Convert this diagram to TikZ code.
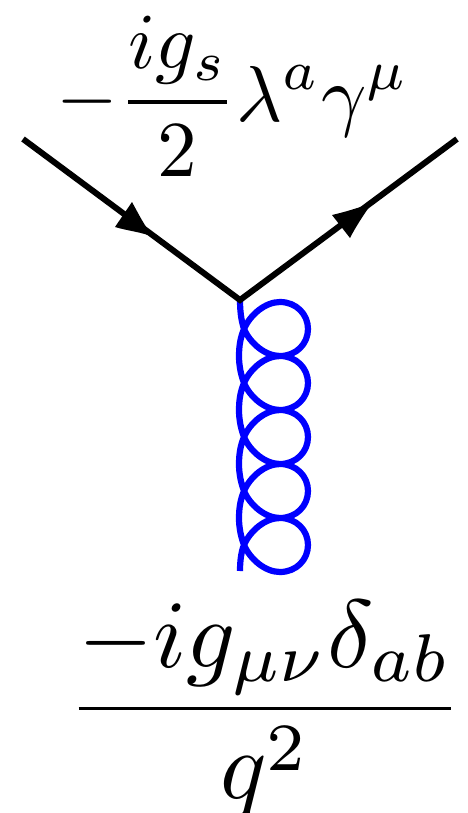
\documentclass[tikz,border=0pt]{standalone}
\newcommand{\gloophalf}{
  .. controls +(6,14) and +(-15,0) .. ++(36,27)
  .. controls +(16,0) and +(0,15) .. ++(28,-27)
  .. controls +(0,-15) and +(16,0) .. ++(-28,-27)
  .. controls +(-15,0) and +(6,-14) .. ++(-36,27)}
\newcommand{\gleft}{
  .. controls +(-3.5,8) and +(0,-10) .. ++(-5,27)
  .. controls +(0,10) and +(-3,-8) .. ++(5,27)}
\begin{document}
\begin{tikzpicture}[x=1pt,y=-1pt,
  fermion/.style={line width=6pt,black,line cap=butt,line join=miter},
  tipfill/.style={fill=black,draw=none},
  gluon/.style={line width=6.2pt,blue,line cap=butt,line join=round},
  toplabel/.style={inner sep=0pt,scale=7.93},
  botlabel/.style={inner sep=0pt,scale=9.65}]
\useasboundingbox (0,0) rectangle (468,813);
\coordinate (a) at (23,139);
\coordinate (v) at (240,300);
\coordinate (b) at (457,139);
\coordinate (gs) at (240,300);
\coordinate (gc) at (244,329);
\coordinate (ge) at (240,571);
% gluon
\draw[gluon] (gs) .. controls +(0,10) and +(-3,-9) .. (gc)
  \gloophalf \gleft \gloophalf \gleft \gloophalf \gleft \gloophalf \gleft \gloophalf
  .. controls +(-3,7) and +(0,-9) .. (ge);
% fermion lines
\draw[fermion] (a) -- (v) -- (b);
% arrowheads
\coordinate (t1) at (153,237); \coordinate (l1) at (132,202); \coordinate (r1) at (115,227);
\coordinate (t2) at (372,203); \coordinate (l2) at (332,215); \coordinate (r2) at (350,238);
\fill[tipfill] (t1) .. controls (144,225) and (138,213) .. (l1) -- (r1) .. controls (128,231) and (142,232) .. (t1) -- cycle;
\fill[tipfill] (t2) .. controls (358,208) and (345,212) .. (l2) -- (r2) .. controls (355,228) and (364,214) .. (t2) -- cycle;
% labels
\node[toplabel] (top) at (233,96) {$\displaystyle -\frac{ig_s}{2}\lambda^a\gamma^\mu$};
\node[botlabel] (bot) at (265,709) {$\displaystyle \frac{-ig_{\mu\nu}\delta_{ab}}{q^2}$};
\end{tikzpicture}
\end{document}
